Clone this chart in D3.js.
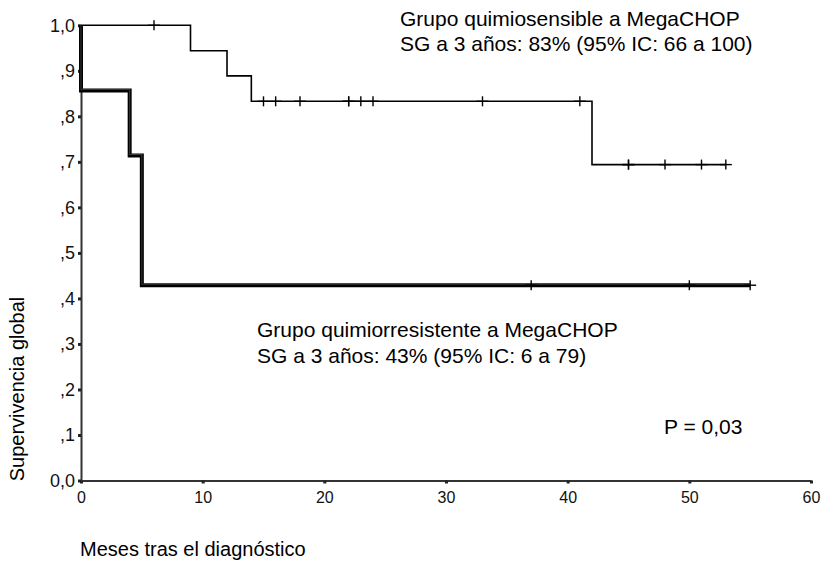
<!DOCTYPE html>
<html>
<head>
<meta charset="utf-8">
<script src="https://cdn.jsdelivr.net/npm/d3@7"></script>
<style>
  html, body { margin: 0; padding: 0; background: #fff; }
  svg { display: block; font-family: "Liberation Sans", Arial, sans-serif; }
</style>
</head>
<body>
<svg id="chart" width="826" height="562"></svg>
<script>
// Kaplan-Meier steps: month of each change and survival after it
const sensTimes = [0, 9, 12, 14, 42];
const sensSurv = [1.0, 0.944, 0.889, 0.833, 0.694];
const sensEnd = 53;
const sensCensored = [6, 15, 16, 18, 22, 22, 23, 24, 33, 41, 45, 45, 48, 51, 53];

const resTimes = [0, 0, 4, 5];
const resSurv = [1.0, 0.857, 0.714, 0.429];
const resEnd = 55;
const resCensored = [37, 50, 55];

const xTicks = [0, 10, 20, 30, 40, 50, 60];
const yTicks = [0, 0.1, 0.2, 0.3, 0.4, 0.5, 0.6, 0.7, 0.8, 0.9, 1.0];
const yTickLabels = ["0,0", ",1", ",2", ",3", ",4", ",5", ",6", ",7", ",8", ",9", "1,0"];

const sensLabel = ["Grupo quimiosensible a MegaCHOP", "SG a 3 años: 83% (95% IC: 66 a 100)"];
const resLabel = ["Grupo quimiorresistente a MegaCHOP", "SG a 3 años: 43% (95% IC: 6 a 79)"];
const pLabel = "P = 0,03";
const xTitle = "Meses tras el diagnóstico";
const yTitle = "Supervivencia global";

const svg = d3.select("#chart");
const x = d3.scaleLinear().domain([0, 60]).range([81, 811]);
const y = d3.scaleLinear().domain([0, 1]).range([480.5, 25.3]);

// axes
const axisColor = "#333";
const gx = svg.append("g").attr("transform", `translate(0,${y(0)})`)
  .call(d3.axisBottom(x).tickValues(xTicks).tickSize(3).tickSizeOuter(0).tickPadding(8));
const gy = svg.append("g").attr("transform", `translate(${x(0)},0)`)
  .call(d3.axisLeft(y).tickValues(yTicks).tickFormat((d, i) => yTickLabels[i])
    .tickSize(3).tickSizeOuter(0).tickPadding(3));
[gx, gy].forEach(g => {
  g.select(".domain").attr("stroke", axisColor).attr("stroke-width", 2);
  g.selectAll(".tick line").attr("stroke", "#222").attr("stroke-width", 3);
  g.selectAll(".tick text").attr("fill", "#111")
    .style("font-family", "'Liberation Sans', Arial, sans-serif");
});
gx.selectAll(".tick text").style("font-size", "16px");
gy.selectAll(".tick text").style("font-size", "18px");

// survival curves
const line = d3.line().x(d => x(d[0])).y(d => y(d[1])).curve(d3.curveStepAfter);
function stepPoints(times, surv, end) {
  const pts = times.map((t, i) => [t, surv[i]]);
  pts.push([end, surv[surv.length - 1]]);
  return pts;
}
function survAt(times, surv, t) {
  let s = surv[0];
  times.forEach((ti, i) => { if (ti <= t) s = surv[i]; });
  return s;
}

const resPts = stepPoints(resTimes, resSurv, resEnd);
svg.append("path").attr("d", line(resPts)).attr("fill", "none")
  .attr("stroke", "#000").attr("stroke-width", 4).attr("stroke-linejoin", "miter");
svg.append("path").attr("d", line(resPts)).attr("fill", "none")
  .attr("transform", "translate(0,-1)")
  .attr("stroke", "#888").attr("stroke-width", 0.7).attr("stroke-opacity", 0.6);

const sensPts = stepPoints(sensTimes, sensSurv, sensEnd);
svg.append("path").attr("d", line(sensPts)).attr("fill", "none")
  .attr("stroke", "#000").attr("stroke-width", 1.6);

// censored observations
function drawCensors(times, surv, list, width) {
  const g = svg.append("g").attr("stroke", "#000").attr("stroke-width", width);
  list.forEach(t => {
    const cx = x(t), cy = y(survAt(times, surv, t));
    g.append("line").attr("x1", cx).attr("x2", cx).attr("y1", cy - 5).attr("y2", cy + 5);
    g.append("line").attr("x1", cx - 6).attr("x2", cx + 6).attr("y1", cy).attr("y2", cy);
  });
}
drawCensors(sensTimes, sensSurv, sensCensored, 1.4);
drawCensors(resTimes, resSurv, resCensored, 1.4);

// annotations
function block(lines, x0, y0, gap) {
  const t = svg.append("text").attr("x", x0).attr("y", y0)
    .attr("fill", "#000").style("font-size", "21px");
  lines.forEach((s, i) => t.append("tspan").attr("x", x0).attr("y", y0 + i * gap).text(s));
}
block(sensLabel, 400, 26, 25);
block(resLabel, 257, 337, 25.5);
svg.append("text").attr("x", 664).attr("y", 434).style("font-size", "21px").text(pLabel);

svg.append("text").attr("x", 80).attr("y", 556).style("font-size", "20px").text(xTitle);
svg.append("text").attr("transform", "translate(24,389) rotate(-90)")
  .attr("text-anchor", "middle").style("font-size", "20px").text(yTitle);
</script>
</body>
</html>
